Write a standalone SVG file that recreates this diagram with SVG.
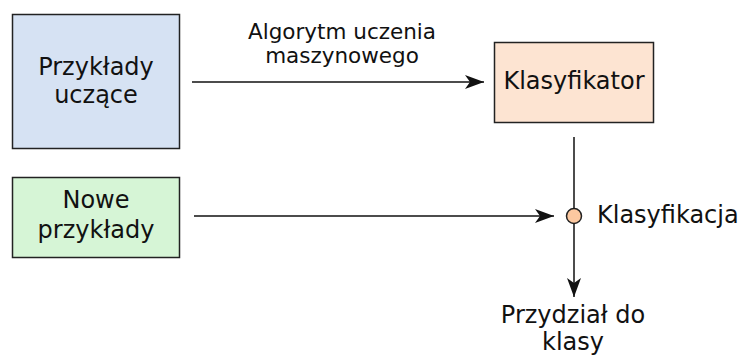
<svg xmlns="http://www.w3.org/2000/svg" width="741" height="356" viewBox="0 0 741 356">
<style>
text{font-family:"DejaVu Sans",sans-serif;font-size:24px;fill:#111;text-anchor:middle}
.lbl{font-size:21.5px}
.box{stroke:#222;stroke-width:1.5}
.ln{stroke:#111;stroke-width:1.5;fill:none}
</style>
<defs>
<marker id="ah" markerWidth="20" markerHeight="14" refX="19" refY="7" orient="auto" markerUnits="userSpaceOnUse">
<path d="M0,0 L19,7 L0,14 L5,7 Z" fill="#111"/>
</marker>
</defs>
<rect width="741" height="356" fill="#fff"/>
<g id="n1"><rect class="box" x="12.5" y="14.5" width="167" height="134" fill="#d6e2f3"/><text x="96" y="75">Przykłady</text><text x="96" y="103">uczące</text></g>
<g id="n2"><rect class="box" x="12.5" y="177.5" width="167" height="80" fill="#d6f5d6"/><text x="96" y="208">Nowe</text><text x="96" y="238">przykłady</text></g>
<g id="n3"><rect class="box" x="494.5" y="42.5" width="159" height="80" fill="#fde4d2"/><text x="574" y="89">Klasyfikator</text></g>
<g id="n4"><circle cx="574" cy="216" r="7.5" fill="#fcc8a0" stroke="#222" stroke-width="1.5"/><text x="597" y="223" style="text-anchor:start">Klasyfikacja</text></g>
<g id="n5"><text x="573" y="323">Przydział do</text><text x="573" y="350">klasy</text></g>
<g id="edges">
<line class="ln" x1="192" y1="82" x2="484" y2="82" marker-end="url(#ah)"/>
<text class="lbl" x="342" y="39">Algorytm uczenia</text><text class="lbl" x="342" y="63">maszynowego</text>
<line class="ln" x1="194" y1="216" x2="554" y2="216" marker-end="url(#ah)"/>
<line class="ln" x1="574" y1="137" x2="574" y2="208.5"/>
<line class="ln" x1="574" y1="223.5" x2="574" y2="297" marker-end="url(#ah)"/>
</g>
</svg>
